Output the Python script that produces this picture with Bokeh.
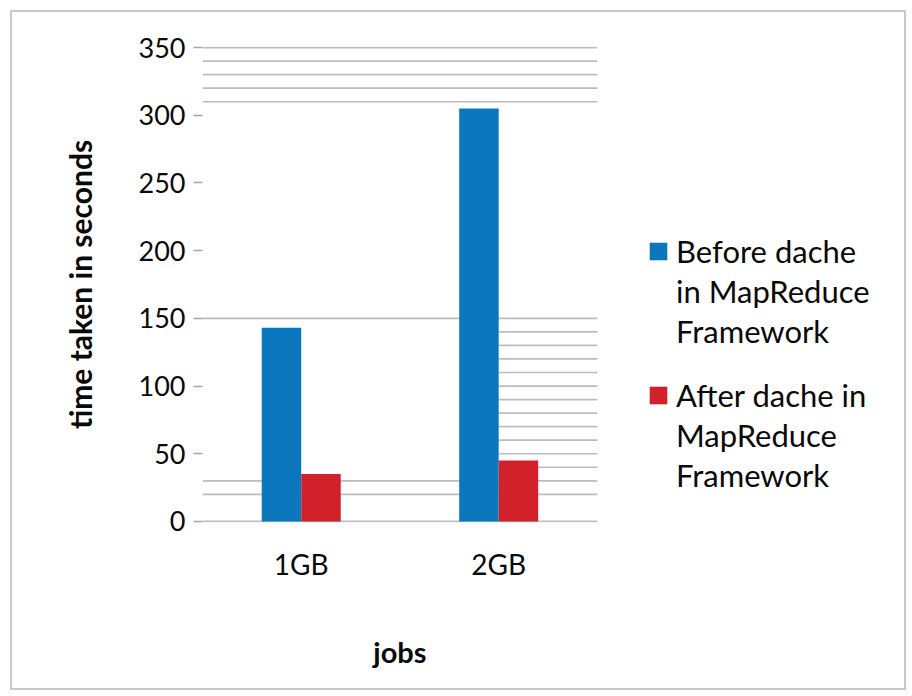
from bokeh.plotting import figure
from bokeh.models import (ColumnDataSource, Range1d, FixedTicker, LinearAxis,
                          Legend, LegendItem)
from bokeh.transform import dodge
from bokeh.embed import file_html
from bokeh.resources import INLINE

# Job sizes and measured run times (seconds)
jobs = ["1GB", "2GB"]
before_dache = [143, 305]
after_dache = [35, 45]

# Value axis
y_ticks = [0, 50, 100, 150, 200, 250, 300, 350]
# Horizontal rules: across the whole plot, and only right of the 2GB group
full_rules = [350, 340, 330, 320, 310, 150, 30, 20, 0]
right_rules = [140, 130, 120, 110, 100, 90, 80, 70, 60, 50, 40]

before_lines = ["Before dache", "in MapReduce", "Framework"]
after_lines = ["After dache in", "MapReduce", "Framework"]

BLUE = "#0B78BE"
RED = "#D3212B"
RULE = "#bdbdbd"
INK = "#0a0a0a"
FONT = "Lato"

# each job group sits at the middle of a unit-wide slot
slots = [i + 0.5 for i in range(len(jobs))]
src = ColumnDataSource(dict(pos=slots, before=before_dache, after=after_dache))

p = figure(x_range=Range1d(0, 3.55), y_range=Range1d(-0.8, 350.8),
           width=896, height=680, output_backend="svg", toolbar_location=None,
           min_border_left=190, min_border_right=5,
           min_border_top=34, min_border_bottom=170,
           margin=(10, 6, 5, 10),
           styles={"border": "2px solid #c9c9c9"})
p.background_fill_color = "white"
p.border_fill_color = "white"
p.outline_line_color = None

# Horizontal rules drawn beneath the bars
n = len(jobs)
p.segment(x0=[0] * len(full_rules), x1=[n] * len(full_rules),
          y0=full_rules, y1=full_rules, line_color=RULE, line_width=1.7)
p.segment(x0=[n - 0.5] * len(right_rules), x1=[n] * len(right_rules),
          y0=right_rules, y1=right_rules, line_color=RULE, line_width=1.7)

r_before = p.vbar(x=dodge("pos", -0.1), top="before", width=0.2,
                  source=src, fill_color=BLUE, line_color=None)
r_after = p.vbar(x=dodge("pos", 0.1), top="after", width=0.2,
                 source=src, fill_color=RED, line_color=None)
# empty renderer used for the continuation lines of the legend labels
blank = p.scatter(x=[], y=[], fill_alpha=0, line_alpha=0)

p.xgrid.grid_line_color = None
p.ygrid.grid_line_color = None

# Y axis
p.yaxis.ticker = FixedTicker(ticks=y_ticks)
p.yaxis.axis_line_color = None
p.yaxis.major_tick_line_color = "#a5a5a5"
p.yaxis.major_tick_line_width = 1.5
p.yaxis.major_tick_out = 9
p.yaxis.major_tick_in = 0
p.yaxis.minor_tick_line_color = None
p.yaxis.major_label_text_font = FONT
p.yaxis.major_label_text_font_size = "27px"
p.yaxis.major_label_text_color = INK
p.yaxis.major_label_standoff = 8
p.yaxis.axis_label = "time taken in seconds"
p.yaxis.axis_label_text_font = FONT
p.yaxis.axis_label_text_font_style = "bold"
p.yaxis.axis_label_text_font_size = "30px"
p.yaxis.axis_label_text_color = INK
p.yaxis.axis_label_standoff = 38

# X axis: one labelled tick per job group
p.xaxis.ticker = FixedTicker(ticks=slots)
p.xaxis.major_label_overrides = {s: j for s, j in zip(slots, jobs)}
p.xaxis.axis_line_color = None
p.xaxis.major_tick_line_color = None
p.xaxis.minor_tick_line_color = None
p.xaxis.major_label_text_font = FONT
p.xaxis.major_label_text_font_size = "28px"
p.xaxis.major_label_text_color = INK
p.xaxis.major_label_standoff = 18

# X axis title, centred under the two job groups
mid = len(jobs) / 2
title_axis = LinearAxis(ticker=FixedTicker(ticks=[mid]),
                        major_label_overrides={mid: "jobs"},
                        axis_line_color=None, major_tick_line_color=None,
                        minor_tick_line_color=None,
                        major_label_text_font=FONT,
                        major_label_text_font_style="bold",
                        major_label_text_font_size="29px",
                        major_label_text_color=INK,
                        major_label_standoff=44)
p.add_layout(title_axis, "below")


def series_legend(lines, renderer, location):
    items = [LegendItem(label=lines[0], renderers=[renderer])]
    items += [LegendItem(label=t, renderers=[blank]) for t in lines[1:]]
    return Legend(items=items, location=location,
                  border_line_color=None, background_fill_alpha=0,
                  glyph_width=22, glyph_height=22, label_standoff=7,
                  label_text_font=FONT, label_text_font_size="31px",
                  label_text_color=INK, label_height=30,
                  spacing=2, padding=0, margin=0)


p.add_layout(series_legend(before_lines, r_before, (445, 172)))
p.add_layout(series_legend(after_lines, r_after, (445, 28)))

open("out.html", "w").write(file_html(p, INLINE))
